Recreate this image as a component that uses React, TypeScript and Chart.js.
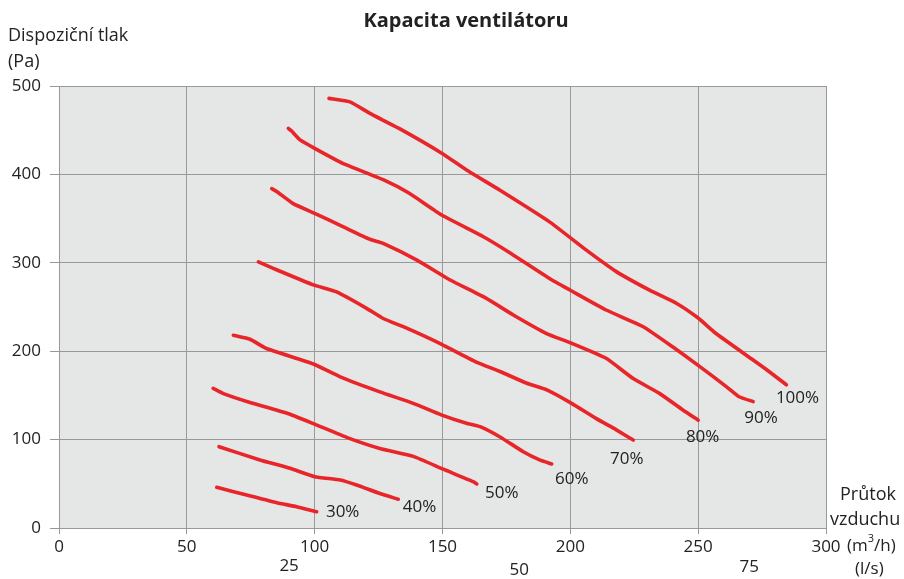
import React, { useEffect, useRef } from "react";
import { Chart, registerables } from "chart.js";

Chart.register(...registerables);

// Flow (m3/h), pressure (Pa) pairs for each fan speed curve
const curve100: [number, number][] = [[105.6,486],[113.8,482],[121.6,469],[133,452],[149.7,424],[159.4,405],[172.5,382],[192,346],[206.4,314],[218,290],[231,269],[241.6,254],[250,237.5],[257,220],[271.5,190],[276.8,179],[284.5,162]];
const curve90: [number, number][] = [[89.7,452],[91,449],[94.3,439],[100,429.5],[111,412.5],[126.8,394],[137,378.6],[149.7,354],[166,329.5],[176,312],[192,282],[200,269],[214,246.6],[228.5,227.7],[240,205],[250,184],[261,160],[266,148.5],[271.5,143]];
const curve80: [number, number][] = [[83.2,384],[85,381],[91.6,367],[100,356],[111,341],[121.6,326.6],[126.8,322],[140,303],[153,280.5],[167,260],[177.7,241],[190.7,220],[200.5,209],[214,192],[224.6,169],[235,152],[244,133.5],[250,122]];
const curve70: [number, number][] = [[78,301],[83.8,293.7],[99.5,275],[108.6,267],[120.3,248.5],[126.8,237],[136,226],[149.5,208],[163,188],[172.5,177],[183,163.7],[191,156],[200.5,141],[210,124],[218,111],[224.6,99.5]];
const curve60: [number, number][] = [[68.2,218],[74.7,213.5],[81.2,203],[99.5,185.5],[110,171],[125.5,154],[138.6,141],[149.5,128],[159.4,118.4],[164.7,114.6],[172.5,103],[181.6,86.3],[188,77],[192.7,72.4]];
const curve50: [number, number][] = [[60.3,158],[64.3,152],[74.7,142],[89,130],[99.5,118],[113,102],[125.5,90],[138.6,81],[150.3,66.5],[162,52.4],[163.4,49.8]];
const curve40: [number, number][] = [[62.6,92],[78.6,77],[90.3,67.5],[100,58],[110,54.3],[116.4,48.6],[125.5,39],[132.7,32.5]];
const curve30: [number, number][] = [[61.7,46],[73.4,37.3],[85.1,28.6],[92.9,24.1],[100.8,18.4]];

const curves = [curve100, curve90, curve80, curve70, curve60, curve50, curve40, curve30];
const curveLabels = ["100%", "90%", "80%", "70%", "60%", "50%", "40%", "30%"];
// label anchor (left edge, vertical centre) in data units
const labelAnchorX = [280.4, 268, 245.2, 215.5, 194, 166.6, 134.5, 104.4];
const labelAnchorY = [147, 124.4, 103, 78, 55.4, 39.6, 23.8, 18.1];

const secondaryTicksLs = [25, 50, 75];
const M3H_PER_LS = 3.6;

const TITLE = "Kapacita ventilátoru";
const FONT = "'Open Sans', 'Noto Sans', sans-serif";

const overlay = {
  id: "overlay",
  beforeDraw(chart: any) {
    const { ctx, chartArea } = chart;
    ctx.save();
    ctx.fillStyle = "#e5e6e6";
    ctx.fillRect(chartArea.left, chartArea.top, chartArea.right - chartArea.left, chartArea.bottom - chartArea.top);
    ctx.restore();
  },
  afterDraw(chart: any) {
    const { ctx } = chart;
    const xs = chart.scales.x;
    const ys = chart.scales.y;
    ctx.save();
    ctx.fillStyle = "#222";
    ctx.font = `bold 20px ${FONT}`;
    ctx.textAlign = "center";
    ctx.textBaseline = "middle";
    ctx.fillText(TITLE, 466, 21);

    ctx.font = `18px ${FONT}`;
    ctx.textAlign = "left";
    ctx.fillText("Dispoziční tlak", 8, 36);
    ctx.fillText("(Pa)", 8, 62);

    ctx.fillText("Průtok", 840, 495);
    ctx.fillText("vzduchu", 830, 520);
    ctx.font = `17px ${FONT}`;
    ctx.fillText("(m", 847, 546);
    const mw = ctx.measureText("(m").width;
    ctx.font = `11px ${FONT}`;
    ctx.fillText("3", 847 + mw, 539);
    const w3 = ctx.measureText("3").width;
    ctx.font = `17px ${FONT}`;
    ctx.fillText("/h)", 847 + mw + w3, 546);
    ctx.fillText("(l/s)", 855, 569);

    ctx.textAlign = "center";
    const yOff = [566, 570, 567];
    secondaryTicksLs.forEach((v, i) => {
      ctx.fillText(String(v), xs.getPixelForValue(v * M3H_PER_LS), yOff[i]);
    });

    ctx.textAlign = "left";
    curveLabels.forEach((t, i) => {
      ctx.fillText(t, xs.getPixelForValue(labelAnchorX[i]), ys.getPixelForValue(labelAnchorY[i]));
    });
    ctx.restore();
  },
};

export default function App() {
  const ref = useRef<HTMLCanvasElement | null>(null);
  useEffect(() => {
    if (!ref.current) return;
    const chart = new Chart(ref.current, {
      type: "line",
      data: {
        datasets: curves.map((c, i) => ({
          label: curveLabels[i],
          data: c.map(([x, y]) => ({ x, y })),
          borderColor: "#e8262a",
          borderWidth: 3.6,
          borderCapStyle: "round",
          borderJoinStyle: "round",
          pointRadius: 0,
          tension: 0.15,
          fill: false,
        })),
      },
      options: {
        animation: false,
        responsive: false,
        maintainAspectRatio: false,
        layout: { padding: { top: 86, right: 78, left: 0, bottom: 0 } },
        plugins: { legend: { display: false }, tooltip: { enabled: false }, title: { display: false } },
        scales: {
          x: {
            type: "linear",
            min: 0,
            max: 300,
            ticks: { stepSize: 50, color: "#222", font: { family: FONT, size: 17 }, padding: 3, maxRotation: 0 },
            grid: { color: "#999", lineWidth: 1, tickLength: 6, drawTicks: true },
            border: { display: false },
            afterFit(s: any) { s.height = 51; },
          },
          y: {
            type: "linear",
            min: 0,
            max: 500,
            ticks: { stepSize: 100, color: "#222", font: { family: FONT, size: 17 }, padding: 9 },
            grid: { color: "#999", lineWidth: 1, tickLength: 9, drawTicks: true },
            border: { display: false },
            afterFit(s: any) { s.width = 59; },
          },
        },
      },
      plugins: [overlay],
    } as any);
    return () => chart.destroy();
  }, []);
  return (
    <div style={{ position: "absolute", left: 0, top: 0, width: 904, height: 579 }}>
      <canvas ref={ref} width={904} height={579} style={{ width: 904, height: 579 }} />
    </div>
  );
}
